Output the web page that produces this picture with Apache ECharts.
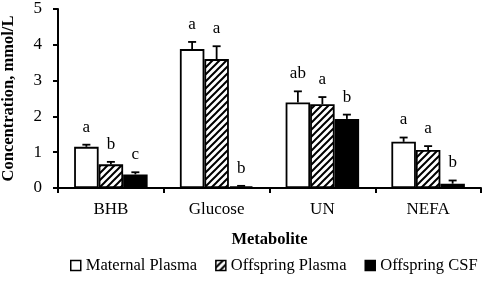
<!DOCTYPE html>
<html>
<head>
<meta charset="utf-8">
<script src="https://cdn.jsdelivr.net/npm/echarts@6/dist/echarts.min.js"></script>
<style>
  html, body { margin: 0; padding: 0; background: #fff; }
  #chart { width: 484px; height: 282px; }
</style>
</head>
<body>
<div id="chart"></div>
<script>
// Data
const categories = ['BHB', 'Glucose', 'UN', 'NEFA'];
const seriesNames = ['Maternal Plasma', 'Offspring Plasma', 'Offspring CSF'];

const maternalPlasma = [1.15, 3.88, 2.39, 1.29];
const offspringPlasma = [0.66, 3.60, 2.34, 1.06];
const offspringCSF = [0.38, 0.05, 1.93, 0.12];

const maternalErr = [0.06, 0.20, 0.31, 0.12];
const offspringErr = [0.07, 0.36, 0.20, 0.11];
const csfErr = [0.06, 0.01, 0.12, 0.09];

const maternalLetters = ['a', 'a', 'ab', 'a'];
const offspringLetters = ['b', 'a', 'a', 'a'];
const csfLetters = ['c', 'b', 'b', 'b'];

const yTicks = [0, 1, 2, 3, 4, 5];

const FONT = '"Liberation Serif", "Times New Roman", serif';
const BAR_W = 24.5;

// diagonal hatch pattern for offspring plasma
function makeHatch() {
  const c = document.createElement('canvas');
  const s = 7;
  c.width = s; c.height = s;
  const ctx = c.getContext('2d');
  ctx.fillStyle = '#fff';
  ctx.fillRect(0, 0, s, s);
  ctx.strokeStyle = '#000';
  ctx.lineWidth = 2;
  ctx.beginPath();
  ctx.moveTo(-1, s + 1); ctx.lineTo(s + 1, -1);
  ctx.moveTo(-1, 1); ctx.lineTo(1, -1);
  ctx.moveTo(s - 1, s + 1); ctx.lineTo(s + 1, s - 1);
  ctx.stroke();
  return c;
}
const hatch = { image: makeHatch(), repeat: 'repeat' };

const values = [maternalPlasma, offspringPlasma, offspringCSF];
const errs = [maternalErr, offspringErr, csfErr];
const letters = [maternalLetters, offspringLetters, csfLetters];
const fills = ['#ffffff', hatch, '#000000'];

// rows for the error bar + letter layer
const errRows = [];
values.forEach((vals, s) => {
  vals.forEach((v, i) => {
    errRows.push([i, v, errs[s][i], s, letters[s][i]]);
  });
});

const chart = echarts.init(document.getElementById('chart'));

const barSeries = seriesNames.map((name, s) => ({
  name: name,
  type: 'bar',
  data: values[s],
  barWidth: BAR_W,
  barGap: '0%',
  itemStyle: {
    color: fills[s],
    borderColor: '#000',
    borderWidth: 1.8
  },
  emphasis: { disabled: true },
  animation: false
}));

const errSeries = {
  type: 'custom',
  data: errRows,
  silent: true,
  animation: false,
  z: 5,
  renderItem: (params, api) => {
    const cat = api.value(0);
    const v = api.value(1);
    const e = api.value(2);
    const s = api.value(3);
    const letter = errRows[params.dataIndex][4];
    const base = api.coord([cat, v]);
    const top = api.coord([cat, v + e]);
    const x = base[0] + (s - 1) * BAR_W;
    const cap = 4;
    return {
      type: 'group',
      children: [
        {
          type: 'line',
          shape: { x1: x, y1: base[1], x2: x, y2: top[1] },
          style: { stroke: '#000', lineWidth: 1.8 }
        },
        {
          type: 'line',
          shape: { x1: x - cap, y1: top[1], x2: x + cap, y2: top[1] },
          style: { stroke: '#000', lineWidth: 1.8 }
        },
        {
          type: 'text',
          style: {
            x: x,
            y: top[1] - 9,
            text: letter,
            align: 'center',
            verticalAlign: 'bottom',
            font: '17px ' + FONT,
            fill: '#000'
          }
        }
      ]
    };
  }
};

const option = {
  backgroundColor: '#fff',
  animation: false,
  grid: { left: 58, right: 3, top: 9, bottom: 94, outerBoundsMode: 'none', containLabel: false },
  legend: {
    bottom: 8,
    left: 70,
    width: 414,
    padding: 0,
    orient: 'horizontal',
    data: seriesNames,
    icon: 'rect',
    itemWidth: 10,
    itemHeight: 10,
    itemGap: 18,
    textStyle: { fontFamily: FONT, fontSize: 16.5, color: '#000' },
    itemStyle: { borderColor: '#000', borderWidth: 1.5 }
  },
  xAxis: {
    type: 'category',
    data: categories,
    name: 'Metabolite',
    nameLocation: 'middle',
    nameGap: 43,
    nameTextStyle: { fontFamily: FONT, fontSize: 16.5, fontWeight: 'bold', color: '#000' },
    axisLine: { lineStyle: { color: '#000', width: 2 } },
    axisTick: { show: true, length: 5, lineStyle: { color: '#000', width: 2 } },
    axisLabel: { fontFamily: FONT, fontSize: 17, color: '#000', margin: 13 }
  },
  yAxis: {
    type: 'value',
    min: yTicks[0],
    max: yTicks[yTicks.length - 1],
    interval: 1,
    name: 'Concentration, mmol/L',
    nameLocation: 'middle',
    nameGap: 41,
    nameTextStyle: { fontFamily: FONT, fontSize: 16.5, fontWeight: 'bold', color: '#000' },
    axisLine: { show: true, lineStyle: { color: '#000', width: 2 } },
    axisTick: { show: true, length: 5, lineStyle: { color: '#000', width: 2 } },
    axisLabel: { fontFamily: FONT, fontSize: 17, color: '#000', margin: 16 },
    splitLine: { show: false }
  },
  series: [...barSeries, errSeries]
};

chart.setOption(option);
</script>
</body>
</html>
